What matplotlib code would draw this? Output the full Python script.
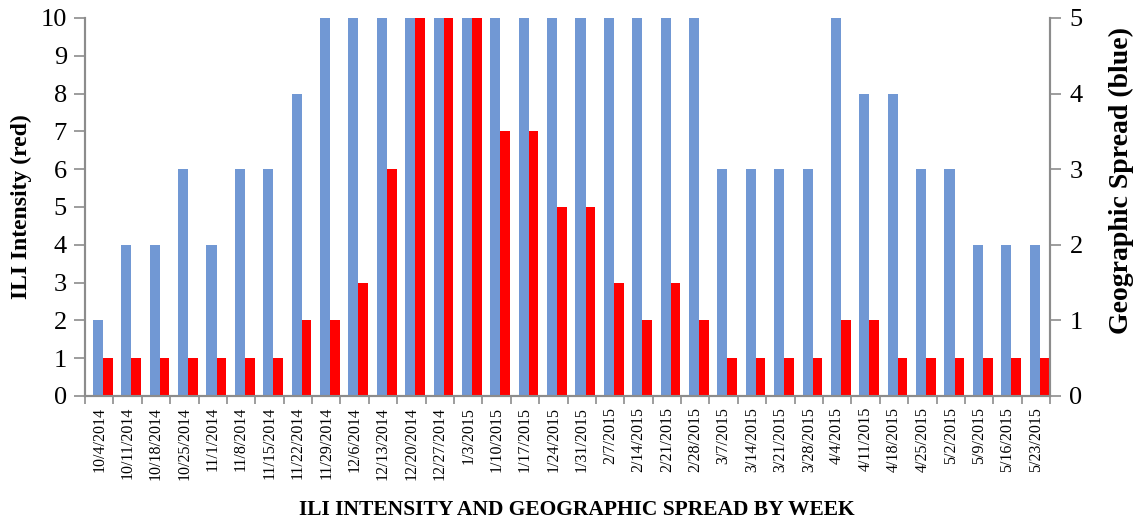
import numpy as np
import matplotlib.pyplot as plt

plt.rcParams['font.family'] = ['Liberation Serif', 'DejaVu Serif']

weeks = ["10/4/2014", "10/11/2014", "10/18/2014", "10/25/2014", "11/1/2014",
         "11/8/2014", "11/15/2014", "11/22/2014", "11/29/2014", "12/6/2014",
         "12/13/2014", "12/20/2014", "12/27/2014", "1/3/2015", "1/10/2015",
         "1/17/2015", "1/24/2015", "1/31/2015", "2/7/2015", "2/14/2015",
         "2/21/2015", "2/28/2015", "3/7/2015", "3/14/2015", "3/21/2015",
         "3/28/2015", "4/4/2015", "4/11/2015", "4/18/2015", "4/25/2015",
         "5/2/2015", "5/9/2015", "5/16/2015", "5/23/2015"]

# ILI intensity (left axis, 0-10)
ili = [1, 1, 1, 1, 1, 1, 1, 2, 2, 3, 6, 10, 10, 10, 7, 7, 5, 5, 3, 2,
       3, 2, 1, 1, 1, 1, 2, 2, 1, 1, 1, 1, 1, 1]

# Geographic spread (right axis, 0-5)
spread = [1, 2, 2, 3, 2, 3, 3, 4, 5, 5, 5, 5, 5, 5, 5, 5, 5, 5, 5, 5,
          5, 5, 3, 3, 3, 3, 5, 4, 4, 3, 3, 2, 2, 2]

blue = "#7198d4"
red = "#ff0000"
axis_gray = "#8c8c8c"

fig = plt.figure(figsize=(11.38, 5.2), dpi=100)
ax = fig.add_axes([0.0747, 0.2385, 0.848, 0.7269])
ax2 = ax.twinx()

x = np.arange(len(weeks))
ax2.bar(x + 0.28, spread, width=0.355, align='edge', color=blue, linewidth=0)
ax.bar(x + 0.635, ili, width=0.34, align='edge', color=red, linewidth=0)

# red bars drawn above the blue ones
ax.set_zorder(ax2.get_zorder() + 1)
ax.patch.set_visible(False)

ax.set_xlim(0, len(weeks))
ax.set_ylim(0, 10)
ax2.set_ylim(0, 5)
ax.set_yticks(range(0, 11))
ax2.set_yticks(range(0, 6))

# tick marks between categories, labels at the centres
ax.set_xticks(np.arange(len(weeks) + 1))
ax.set_xticklabels([])
ax.set_xticks(x + 0.5, minor=True)
ax.set_xticklabels(weeks, minor=True, rotation=90, fontsize=11.5)
ax.tick_params(axis='x', which='minor', length=0, pad=8)
ax.tick_params(axis='x', which='major', length=6, width=1.2, color=axis_gray)

ax.tick_params(axis='y', labelsize=19, length=8, width=1.2, color=axis_gray, pad=5)
ax2.tick_params(axis='y', labelsize=19, length=8, width=1.2, color=axis_gray, pad=6)

for a in (ax, ax2):
    a.spines['top'].set_visible(False)
    for s in ('left', 'right', 'bottom'):
        a.spines[s].set_color(axis_gray)
        a.spines[s].set_linewidth(1.5)

ax.set_ylabel("ILI Intensity (red)", fontsize=17, fontweight='bold', labelpad=6)
ax2.set_ylabel("Geographic Spread (blue)", fontsize=20, fontweight='bold')
ax2.yaxis.set_label_coords(1.061, 0.57)
ax.set_xlabel("ILI INTENSITY AND GEOGRAPHIC SPREAD BY WEEK", fontsize=15.5,
              fontweight='bold', labelpad=12)
ax.xaxis.set_label_coords(0.51, -0.275)

fig.savefig("out.png", dpi=100)
